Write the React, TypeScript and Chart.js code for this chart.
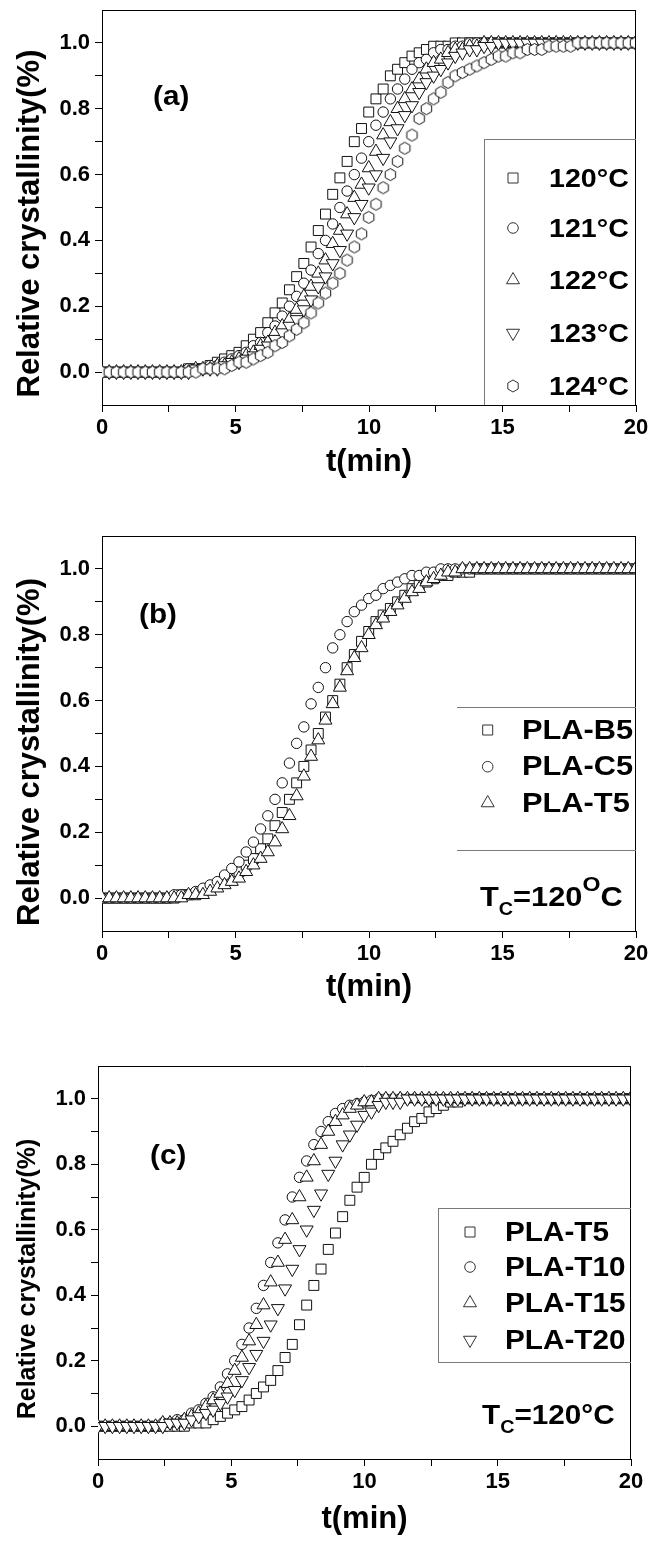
import React, { useEffect, useRef } from 'react';
import { Chart, registerables } from 'chart.js';

Chart.register(...registerables);

const FAMILY = '"Liberation Sans", Arial, Helvetica, sans-serif';
Chart.defaults.font.family = FAMILY;

// ---------------- data ----------------
const TIME = [0, 0.27, 0.54, 0.81, 1.08, 1.35, 1.62, 1.89, 2.16, 2.43,
  2.7, 2.97, 3.24, 3.51, 3.78, 4.05, 4.32, 4.59, 4.86, 5.13,
  5.4, 5.67, 5.94, 6.21, 6.48, 6.75, 7.02, 7.29, 7.56, 7.83,
  8.1, 8.37, 8.64, 8.91, 9.18, 9.45, 9.72, 9.99, 10.26, 10.53,
  10.8, 11.07, 11.34, 11.61, 11.88, 12.15, 12.42, 12.69, 12.96, 13.23,
  13.5, 13.77, 14.04, 14.31, 14.58, 14.85, 15.12, 15.39, 15.66, 15.93,
  16.2, 16.47, 16.74, 17.01, 17.28, 17.55, 17.82, 18.09, 18.36, 18.63,
  18.9, 19.17, 19.44, 19.71, 19.98];

// panel (a)
const A_120 = [0, 0, 0, 0, 0, 0, 0, 0, 0, 0,
  0, 0, 0.01, 0.01, 0.01, 0.02, 0.03, 0.04, 0.05, 0.06,
  0.08, 0.10, 0.12, 0.15, 0.18, 0.21, 0.25, 0.29, 0.33, 0.38,
  0.43, 0.48, 0.54, 0.59, 0.64, 0.70, 0.74, 0.79, 0.83, 0.86,
  0.90, 0.92, 0.94, 0.96, 0.97, 0.98, 0.99, 0.99, 0.99, 1,
  1, 1, 1, 1, 1, 1, 1, 1, 1, 1,
  1, 1, 1, 1, 1, 1, 1, 1, 1, 1,
  1, 1, 1, 1, 1];
const A_121 = [0, 0, 0, 0, 0, 0, 0, 0, 0, 0,
  0, 0, 0.01, 0.01, 0.01, 0.02, 0.02, 0.03, 0.04, 0.05,
  0.06, 0.08, 0.09, 0.12, 0.14, 0.17, 0.20, 0.23, 0.27, 0.31,
  0.36, 0.40, 0.45, 0.50, 0.55, 0.60, 0.65, 0.70, 0.75, 0.79,
  0.83, 0.86, 0.89, 0.92, 0.94, 0.95, 0.97, 0.98, 0.98, 0.99,
  0.99, 1, 1, 1, 1, 1, 1, 1, 1, 1,
  1, 1, 1, 1, 1, 1, 1, 1, 1, 1,
  1, 1, 1, 1, 1];
const A_122 = [0, 0, 0, 0, 0, 0, 0, 0, 0, 0,
  0, 0, 0, 0.01, 0.01, 0.01, 0.02, 0.02, 0.03, 0.04,
  0.05, 0.06, 0.08, 0.09, 0.12, 0.14, 0.16, 0.19, 0.23, 0.26,
  0.30, 0.34, 0.39, 0.43, 0.48, 0.53, 0.57, 0.62, 0.67, 0.72,
  0.76, 0.80, 0.83, 0.86, 0.89, 0.92, 0.94, 0.95, 0.97, 0.98,
  0.98, 0.99, 0.99, 1, 1, 1, 1, 1, 1, 1,
  1, 1, 1, 1, 1, 1, 1, 1, 1, 1,
  1, 1, 1, 1, 1];
const A_123 = [0, 0, 0, 0, 0, 0, 0, 0, 0, 0,
  0, 0, 0, 0.01, 0.01, 0.01, 0.01, 0.02, 0.03, 0.03,
  0.04, 0.05, 0.07, 0.08, 0.10, 0.12, 0.14, 0.16, 0.19, 0.22,
  0.26, 0.29, 0.33, 0.37, 0.42, 0.47, 0.51, 0.56, 0.60, 0.65,
  0.70, 0.74, 0.78, 0.81, 0.85, 0.88, 0.90, 0.92, 0.94, 0.96,
  0.97, 0.98, 0.98, 0.99, 0.99, 1, 1, 1, 1, 1,
  1, 1, 1, 1, 1, 1, 1, 1, 1, 1,
  1, 1, 1, 1, 1];
const A_124 = [0, 0, 0, 0, 0, 0, 0, 0, 0, 0,
  0, 0, 0, 0, 0.01, 0.01, 0.01, 0.01, 0.02, 0.03,
  0.03, 0.04, 0.05, 0.06, 0.08, 0.09, 0.11, 0.13, 0.15, 0.18,
  0.21, 0.24, 0.27, 0.30, 0.34, 0.38, 0.42, 0.47, 0.51, 0.56,
  0.60, 0.64, 0.68, 0.72, 0.77, 0.80, 0.83, 0.85, 0.88, 0.90,
  0.91, 0.92, 0.93, 0.94, 0.95, 0.96, 0.96, 0.97, 0.97, 0.98,
  0.98, 0.98, 0.99, 0.99, 0.99, 0.99, 1, 1, 1, 1,
  1, 1, 1, 1, 1];

// panel (b)
const B_B5 = [0, 0, 0, 0, 0, 0, 0, 0, 0, 0,
  0, 0.01, 0.01, 0.01, 0.02, 0.03, 0.04, 0.05, 0.06, 0.08,
  0.10, 0.12, 0.15, 0.18, 0.22, 0.26, 0.30, 0.35, 0.40, 0.45,
  0.50, 0.55, 0.60, 0.65, 0.70, 0.74, 0.78, 0.81, 0.84, 0.86,
  0.88, 0.90, 0.92, 0.94, 0.95, 0.96, 0.97, 0.98, 0.98, 0.99,
  0.99, 0.99, 1, 1, 1, 1, 1, 1, 1, 1,
  1, 1, 1, 1, 1, 1, 1, 1, 1, 1,
  1, 1, 1, 1, 1];
const B_C5 = [0, 0, 0, 0, 0, 0, 0, 0, 0, 0,
  0.01, 0.01, 0.01, 0.02, 0.03, 0.04, 0.05, 0.07, 0.09, 0.11,
  0.14, 0.17, 0.21, 0.25, 0.30, 0.35, 0.41, 0.47, 0.52, 0.59,
  0.64, 0.70, 0.76, 0.80, 0.84, 0.87, 0.89, 0.91, 0.92, 0.94,
  0.95, 0.96, 0.97, 0.98, 0.98, 0.99, 0.99, 1, 1, 1,
  1, 1, 1, 1, 1, 1, 1, 1, 1, 1,
  1, 1, 1, 1, 1, 1, 1, 1, 1, 1,
  1, 1, 1, 1, 1];
const B_T5 = [0, 0, 0, 0, 0, 0, 0, 0, 0, 0,
  0, 0, 0.01, 0.01, 0.01, 0.02, 0.03, 0.04, 0.05, 0.06,
  0.08, 0.10, 0.12, 0.14, 0.17, 0.21, 0.25, 0.31, 0.37, 0.43,
  0.48, 0.54, 0.59, 0.64, 0.69, 0.73, 0.76, 0.80, 0.83, 0.85,
  0.87, 0.89, 0.91, 0.93, 0.94, 0.96, 0.97, 0.98, 0.99, 0.99,
  1, 1, 1, 1, 1, 1, 1, 1, 1, 1,
  1, 1, 1, 1, 1, 1, 1, 1, 1, 1,
  1, 1, 1, 1, 1];

// panel (c)
const C_T5 = [0, 0, 0, 0, 0, 0, 0, 0, 0, 0,
  0, 0, 0, 0.01, 0.01, 0.01, 0.02, 0.03, 0.04, 0.05,
  0.06, 0.08, 0.10, 0.12, 0.14, 0.17, 0.21, 0.25, 0.31, 0.37,
  0.43, 0.48, 0.54, 0.59, 0.64, 0.69, 0.73, 0.76, 0.80, 0.83,
  0.85, 0.87, 0.89, 0.91, 0.93, 0.94, 0.96, 0.97, 0.98, 0.99,
  0.99, 1, 1, 1, 1, 1, 1, 1, 1, 1,
  1, 1, 1, 1, 1, 1, 1, 1, 1, 1,
  1, 1, 1, 1, 1];
const C_T10 = [0, 0, 0, 0, 0, 0, 0, 0, 0, 0.01,
  0.01, 0.02, 0.02, 0.04, 0.05, 0.07, 0.09, 0.12, 0.16, 0.20,
  0.25, 0.30, 0.36, 0.43, 0.50, 0.56, 0.63, 0.70, 0.76, 0.81,
  0.86, 0.90, 0.93, 0.955, 0.97, 0.98, 0.985, 0.99, 0.995, 1,
  1, 1, 1, 1, 1, 1, 1, 1, 1, 1,
  1, 1, 1, 1, 1, 1, 1, 1, 1, 1,
  1, 1, 1, 1, 1, 1, 1, 1, 1, 1,
  1, 1, 1, 1, 1];
const C_T15 = [0, 0, 0, 0, 0, 0, 0, 0, 0, 0.01,
  0.01, 0.01, 0.02, 0.03, 0.04, 0.06, 0.08, 0.10, 0.13, 0.17,
  0.21, 0.26, 0.31, 0.37, 0.44, 0.50, 0.57, 0.63, 0.70, 0.76,
  0.81, 0.86, 0.90, 0.93, 0.95, 0.97, 0.98, 0.99, 0.99, 1,
  1, 1, 1, 1, 1, 1, 1, 1, 1, 1,
  1, 1, 1, 1, 1, 1, 1, 1, 1, 1,
  1, 1, 1, 1, 1, 1, 1, 1, 1, 1,
  1, 1, 1, 1, 1];
const C_T20 = [0, 0, 0, 0, 0, 0, 0, 0, 0, 0,
  0.01, 0.01, 0.01, 0.02, 0.03, 0.04, 0.05, 0.07, 0.09, 0.11,
  0.14, 0.18, 0.22, 0.26, 0.31, 0.36, 0.42, 0.48, 0.54, 0.60,
  0.66, 0.71, 0.77, 0.81, 0.86, 0.89, 0.92, 0.95, 0.96, 0.98,
  0.99, 0.99, 0.99, 1, 1, 1, 1, 1, 1, 1,
  1, 1, 1, 1, 1, 1, 1, 1, 1, 1,
  1, 1, 1, 1, 1, 1, 1, 1, 1, 1,
  1, 1, 1, 1, 1];

const X_TICKS = [0, 2.5, 5, 7.5, 10, 12.5, 15, 17.5, 20];
const X_LABELED = [0, 5, 10, 15, 20];
const Y_TICKS = [0, 0.1, 0.2, 0.3, 0.4, 0.5, 0.6, 0.7, 0.8, 0.9, 1.0];
const Y_LABELED = [0, 0.2, 0.4, 0.6, 0.8, 1.0];
const Y_TITLE = 'Relative crystallinity(%)';
const X_TITLE = 't(min)';

// ---------------- layout config ----------------
type Kind = 'square' | 'circle' | 'tri' | 'dtri' | 'hex';
type Series = { label: string; data: number[]; kind: Kind };
type Panel = {
  top: number; h: number;
  area: { left: number; right: number; top: number; bottom: number };
  series: Series[];
  yTitle: { x: number; cy: number; size: number };
  xTitle: { baseline: number; size: number };
  tag: { text: string; x: number; baseline: number; size: number };
  legend: { x1: number; y1: number; x2: number; y2: number; sides: string[]; markerX: number; textX: number; size: number; rows: number[]; textDy: number };
  tc?: { x: number; baseline: number; sup: string; size: number };
};

const PANELS: Panel[] = [
  {
    top: 0, h: 510,
    area: { left: 102, right: 636, top: 10, bottom: 405 },
    series: [
      { label: '120°C', data: A_120, kind: 'square' },
      { label: '121°C', data: A_121, kind: 'circle' },
      { label: '122°C', data: A_122, kind: 'tri' },
      { label: '123°C', data: A_123, kind: 'dtri' },
      { label: '124°C', data: A_124, kind: 'hex' },
    ],
    yTitle: { x: 38.5, cy: 223.5, size: 31 },
    xTitle: { baseline: 470.6, size: 31 },
    tag: { text: '(a)', x: 153, baseline: 104.5, size: 27 },
    legend: { x1: 484, y1: 139, x2: 636, y2: 405, sides: ['left', 'top'], markerX: 513, textX: 549, size: 26, rows: [178, 228, 280, 333, 386], textDy: 0 },
  },
  {
    top: 510, h: 520,
    area: { left: 102, right: 636, top: 26, bottom: 421 },
    series: [
      { label: 'PLA-B5', data: B_B5, kind: 'square' },
      { label: 'PLA-C5', data: B_C5, kind: 'circle' },
      { label: 'PLA-T5', data: B_T5, kind: 'tri' },
    ],
    yTitle: { x: 38.5, cy: 242, size: 31 },
    xTitle: { baseline: 486, size: 31 },
    tag: { text: '(b)', x: 139, baseline: 112.7, size: 27 },
    legend: { x1: 457, y1: 197, x2: 636, y2: 340, sides: ['top', 'bottom'], markerX: 487.7, textX: 522, size: 28, rows: [220, 256.7, 293], textDy: -1.5 },
    tc: { x: 480, baseline: 396, sup: 'O', size: 28 },
  },
  {
    top: 1030, h: 518,
    area: { left: 98, right: 631, top: 36, bottom: 429 },
    series: [
      { label: 'PLA-T5', data: C_T5, kind: 'square' },
      { label: 'PLA-T10', data: C_T10, kind: 'circle' },
      { label: 'PLA-T15', data: C_T15, kind: 'tri' },
      { label: 'PLA-T20', data: C_T20, kind: 'dtri' },
    ],
    yTitle: { x: 35, cy: 249, size: 25 },
    xTitle: { baseline: 498, size: 31 },
    tag: { text: '(c)', x: 150, baseline: 134, size: 27 },
    legend: { x1: 438, y1: 178, x2: 631, y2: 332, sides: ['left', 'top', 'bottom'], markerX: 470, textX: 505, size: 27, rows: [202, 237, 273, 310], textDy: -1 },
    tc: { x: 482, baseline: 394, sup: '°', size: 27 },
  },
];

const X_AXIS_H = 50;
const HS = 1.1; // horizontal stretch of annotation text

// ---------------- drawing helpers ----------------
function makeHexCanvas(): HTMLCanvasElement {
  const c = document.createElement('canvas');
  c.width = 15; c.height = 15;
  const g = c.getContext('2d')!;
  const cx = 7.5, cy = 7.5, R = 6;
  g.beginPath();
  for (let k = 0; k < 6; k++) {
    const ang = -Math.PI / 2 + (k * Math.PI) / 3;
    const px = cx + R * Math.cos(ang), py = cy + R * Math.sin(ang);
    if (k === 0) g.moveTo(px, py); else g.lineTo(px, py);
  }
  g.closePath();
  g.fillStyle = '#fff';
  g.fill();
  g.lineWidth = 1;
  g.strokeStyle = '#111';
  g.stroke();
  return c;
}

function drawMarker(ctx: CanvasRenderingContext2D, kind: Kind, x: number, y: number) {
  ctx.save();
  ctx.beginPath();
  ctx.lineWidth = 1;
  ctx.strokeStyle = '#333';
  ctx.fillStyle = '#fff';
  if (kind === 'square') {
    ctx.rect(x - 5, y - 5, 10, 10);
  } else if (kind === 'circle') {
    ctx.arc(x, y, 5.3, 0, Math.PI * 2);
  } else if (kind === 'tri' || kind === 'dtri') {
    const r = 7.5;
    const s = kind === 'tri' ? 1 : -1;
    ctx.moveTo(x, y - s * r);
    ctx.lineTo(x + r * 0.866, y + s * r * 0.5);
    ctx.lineTo(x - r * 0.866, y + s * r * 0.5);
    ctx.closePath();
  } else {
    const R = 6;
    for (let k = 0; k < 6; k++) {
      const ang = -Math.PI / 2 + (k * Math.PI) / 3;
      const px = x + R * Math.cos(ang), py = y + R * Math.sin(ang);
      if (k === 0) ctx.moveTo(px, py); else ctx.lineTo(px, py);
    }
    ctx.closePath();
  }
  ctx.fill();
  ctx.stroke();
  ctx.restore();
}

function stretchedText(ctx: CanvasRenderingContext2D, text: string, x: number, y: number) {
  ctx.save();
  ctx.translate(x, y);
  ctx.scale(HS, 1);
  ctx.fillText(text, 0, 0);
  ctx.restore();
  return ctx.measureText(text).width * HS;
}

function decoPlugin(p: Panel) {
  return {
    id: 'deco',
    afterDraw(chart: any) {
      const ctx: CanvasRenderingContext2D = chart.ctx;
      const a = chart.chartArea;
      ctx.save();
      // frame: top and right edges
      ctx.strokeStyle = '#000';
      ctx.lineWidth = 1;
      ctx.beginPath();
      ctx.moveTo(a.left, Math.round(a.top) + 0.5);
      ctx.lineTo(a.right, Math.round(a.top) + 0.5);
      ctx.moveTo(Math.round(a.right) - 0.5, a.top);
      ctx.lineTo(Math.round(a.right) - 0.5, a.bottom);
      ctx.stroke();

      ctx.fillStyle = '#000';
      // y title
      ctx.save();
      ctx.font = `bold ${p.yTitle.size}px ${FAMILY}`;
      ctx.translate(p.yTitle.x, p.yTitle.cy);
      ctx.rotate(-Math.PI / 2);
      ctx.textAlign = 'center';
      ctx.textBaseline = 'alphabetic';
      ctx.fillText(Y_TITLE, 0, 0);
      ctx.restore();

      // x title
      ctx.font = `bold ${p.xTitle.size}px ${FAMILY}`;
      ctx.textAlign = 'center';
      ctx.textBaseline = 'alphabetic';
      ctx.fillText(X_TITLE, (a.left + a.right) / 2, p.xTitle.baseline);

      // panel tag
      ctx.font = `bold ${p.tag.size}px ${FAMILY}`;
      ctx.textAlign = 'left';
      stretchedText(ctx, p.tag.text, p.tag.x, p.tag.baseline);

      // legend box
      const L = p.legend;
      ctx.strokeStyle = '#7a7a7a';
      ctx.beginPath();
      if (L.sides.includes('left')) { ctx.moveTo(L.x1 + 0.5, L.y1); ctx.lineTo(L.x1 + 0.5, L.y2); }
      if (L.sides.includes('top')) { ctx.moveTo(L.x1, L.y1 + 0.5); ctx.lineTo(L.x2, L.y1 + 0.5); }
      if (L.sides.includes('bottom')) { ctx.moveTo(L.x1, L.y2 + 0.5); ctx.lineTo(L.x2, L.y2 + 0.5); }
      ctx.stroke();
      p.series.forEach((s, i) => {
        const y = L.rows[i];
        drawMarker(ctx, s.kind, L.markerX, y);
        ctx.fillStyle = '#000';
        ctx.font = `bold ${L.size}px ${FAMILY}`;
        ctx.textAlign = 'left';
        ctx.textBaseline = 'alphabetic';
        stretchedText(ctx, s.label, L.textX, y + L.textDy + 0.358 * L.size);
      });

      // Tc annotation
      if (p.tc) {
        const t = p.tc;
        const parts = [
          { s: 'T', size: t.size, dy: 0 },
          { s: 'C', size: Math.round(t.size * 0.66), dy: t.size * 0.33 },
          { s: '=120', size: t.size, dy: 0 },
          t.sup === 'O'
            ? { s: 'O', size: Math.round(t.size * 0.74), dy: -t.size * 0.52 }
            : { s: '°', size: t.size, dy: 0 },
          { s: 'C', size: t.size, dy: 0 },
        ];
        let cx = t.x;
        ctx.fillStyle = '#000';
        ctx.textAlign = 'left';
        for (const part of parts) {
          ctx.font = `bold ${part.size}px ${FAMILY}`;
          cx += stretchedText(ctx, part.s, cx, t.baseline + part.dy);
        }
      }
      ctx.restore();
    },
  };
}

function makeChart(canvas: HTMLCanvasElement, p: Panel, hex: HTMLCanvasElement) {
  const n = p.series.length;
  const datasets = p.series.map((s, i) => {
    let pointStyle: any = 'circle';
    let radius = 5;
    let rotation = 0;
    if (s.kind === 'square') { pointStyle = 'rect'; radius = 7; }
    else if (s.kind === 'circle') { pointStyle = 'circle'; radius = 5.2; }
    else if (s.kind === 'tri') { pointStyle = 'triangle'; radius = 7.5; }
    else if (s.kind === 'dtri') { pointStyle = 'triangle'; radius = 7.5; rotation = 180; }
    else { pointStyle = hex; radius = 6; }
    return {
      label: s.label,
      data: TIME.map((t, k) => ({ x: t, y: s.data[k] })),
      pointStyle,
      pointRadius: radius,
      pointRotation: rotation,
      pointBorderColor: '#111',
      pointBackgroundColor: '#fff',
      pointBorderWidth: 1,
      borderColor: '#111',
      backgroundColor: '#fff',
      showLine: false,
      clip: 0,
      order: n - i,
    };
  });

  const W = 657;
  const tickFont = (size: number) => ({ family: FAMILY, size, weight: 'bold' as const });
  return new Chart(canvas, {
    type: 'scatter',
    data: { datasets },
    options: {
      responsive: false,
      animation: false,
      events: [],
      layout: {
        padding: {
          left: 0,
          top: p.area.top,
          right: W - p.area.right,
          bottom: p.h - p.area.bottom - X_AXIS_H,
        },
      },
      plugins: {
        legend: { display: false },
        tooltip: { enabled: false },
        title: { display: false },
      },
      scales: {
        x: {
          type: 'linear',
          position: 'bottom',
          min: 0,
          max: 20,
          afterBuildTicks: (scale: any) => { scale.ticks = X_TICKS.map((v) => ({ value: v })); },
          afterFit: (scale: any) => {
            scale.height = X_AXIS_H;
            scale.paddingLeft = 0; scale.paddingRight = 0; scale.paddingTop = 0; scale.paddingBottom = 0;
          },
          ticks: {
            autoSkip: false,
            maxRotation: 0,
            minRotation: 0,
            padding: 3,
            color: '#000',
            font: tickFont(22),
            callback: (v: any) => (X_LABELED.includes(Number(v)) ? String(v) : ''),
          },
          grid: { display: true, drawOnChartArea: false, drawTicks: true, tickLength: 7, color: '#000', tickColor: '#000', tickWidth: 1 },
          border: { display: true, color: '#000', width: 1 },
        },
        y: {
          type: 'linear',
          position: 'left',
          min: -0.1,
          max: 1.1,
          afterBuildTicks: (scale: any) => { scale.ticks = Y_TICKS.map((v) => ({ value: v })); },
          afterFit: (scale: any) => {
            scale.width = p.area.left;
            scale.paddingLeft = 0; scale.paddingRight = 0; scale.paddingTop = 0; scale.paddingBottom = 0;
          },
          ticks: {
            autoSkip: false,
            padding: 5,
            color: '#000',
            font: tickFont(22),
            callback: (v: any) => {
              const num = Number(v);
              return Y_LABELED.some((q) => Math.abs(q - num) < 1e-6) ? num.toFixed(1) : '';
            },
          },
          grid: { display: true, drawOnChartArea: false, drawTicks: true, tickLength: 7, color: '#000', tickColor: '#000', tickWidth: 1 },
          border: { display: true, color: '#000', width: 1 },
        },
      },
    } as any,
    plugins: [decoPlugin(p)],
  });
}

export default function App() {
  const refs = useRef<(HTMLCanvasElement | null)[]>([]);
  useEffect(() => {
    const hex = makeHexCanvas();
    const charts = PANELS.map((p, k) => makeChart(refs.current[k]!, p, hex));
    return () => charts.forEach((c) => c.destroy());
  }, []);
  return (
    <div style={{ position: 'absolute', left: 0, top: 0, width: 657, height: 1548, background: '#fff' }}>
      {PANELS.map((p, k) => (
        <canvas
          key={k}
          ref={(el) => { refs.current[k] = el; }}
          width={657}
          height={p.h}
          style={{ position: 'absolute', left: 0, top: p.top, width: 657, height: p.h }}
        />
      ))}
    </div>
  );
}
